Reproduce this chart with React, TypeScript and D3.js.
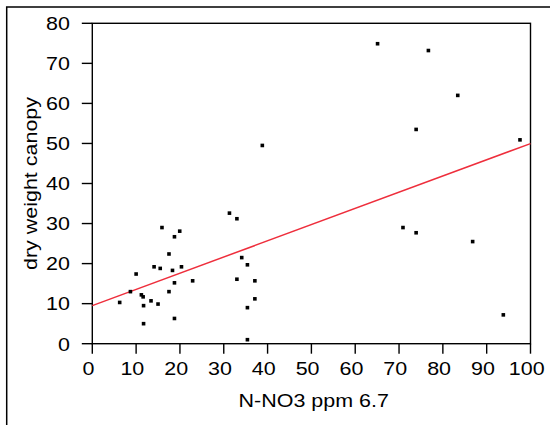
import React from "react";
import * as d3 from "d3";

const nitrate = [6.25, 8.7, 10, 11.2, 11.6, 11.7, 11.7, 13.4, 14.1, 15, 15.5, 15.9, 17.5, 17.5, 18.3, 18.75, 18.75, 18.75, 19.95, 20.35, 22.9, 31.3, 33, 33, 34.1, 35.4, 35.4, 35.4, 37.1, 37.1, 38.8, 65.1, 70.9, 73.9, 73.9, 76.7, 83.4, 86.8, 93.8, 97.6];
const dryWeight = [10.3, 13, 17.4, 12.2, 11.7, 9.5, 5, 10.7, 19.2, 9.9, 18.8, 29, 22.4, 13, 18.3, 26.7, 15.2, 6.3, 28.1, 19.2, 15.7, 32.6, 31.2, 16.1, 21.5, 19.7, 9, 1, 15.7, 11.2, 49.5, 74.9, 29, 27.7, 53.5, 73.2, 62, 25.5, 7.2, 50.9];
const xTicks = [0, 10, 20, 30, 40, 50, 60, 70, 80, 90, 100];
const yTicks = [0, 10, 20, 30, 40, 50, 60, 70, 80];
const xTitle = "N-NO3 ppm 6.7";
const yTitle = "dry weight canopy";

const W = 550, H = 425;
const L = 92.3, R = 530.5, T = 23.3, B = 343.7;
const FONT = "'Liberation Sans', Arial, sans-serif";
const FS = 19;
const SX = 1.13;

export default function App() {
  const x = d3.scaleLinear().domain([0, 100]).range([L, R]);
  const y = d3.scaleLinear().domain([0, 80]).range([B, T]);

  const mx = d3.mean(nitrate)!;
  const my = d3.mean(dryWeight)!;
  let sxy = 0, sxx = 0;
  nitrate.forEach((v, i) => {
    sxy += (v - mx) * (dryWeight[i] - my);
    sxx += (v - mx) * (v - mx);
  });
  const slope = sxy / sxx;
  const intercept = my - slope * mx;
  const fit = d3.line<number>().x((d) => x(d)).y((d) => y(intercept + slope * d));

  return (
    <svg width={W} height={H} style={{ position: "absolute", left: 0, top: 0, background: "#fff" }} fontFamily={FONT}>
      <rect x={0} y={0} width={W} height={H} fill="#fff" />
      <rect x={6.7} y={7} width={700} height={700} fill="none" stroke="#000" strokeWidth={1.5} />
      <rect x={L} y={T} width={R - L} height={B - T} fill="none" stroke="#000" strokeWidth={1.4} />
      {yTicks.map((t) => (
        <g key={"y" + t}>
          <line x1={L - 10.5} x2={L} y1={y(t)} y2={y(t)} stroke="#000" strokeWidth={1.4} />
          <text transform={`translate(70,${y(t) + 6.8}) scale(${SX},1)`} textAnchor="end" fontSize={FS} fill="#000">{t}</text>
        </g>
      ))}
      {xTicks.map((t) => (
        <g key={"x" + t}>
          <line x1={x(t)} x2={x(t)} y1={B} y2={B + 10} stroke="#000" strokeWidth={1.4} />
          <text transform={`translate(${x(t) - 3.8},375) scale(${SX},1)`} textAnchor="middle" fontSize={FS} fill="#000">{t}</text>
        </g>
      ))}
      <path d={fit([0, 100]) || ""} stroke="#ee2e3c" strokeWidth={1.5} fill="none" />
      {nitrate.map((v, i) => (
        <rect key={i} x={x(v) - 1.8} y={y(dryWeight[i]) - 1.8} width={3.6} height={3.6} fill="#000" />
      ))}
      <text transform={`translate(313.7,407.3) scale(${SX},1)`} textAnchor="middle" fontSize={FS} fill="#000">{xTitle}</text>
      <text transform={`translate(37,183.5) rotate(-90) scale(${SX},1)`} textAnchor="middle" fontSize={FS} fill="#000">{yTitle}</text>
    </svg>
  );
}
